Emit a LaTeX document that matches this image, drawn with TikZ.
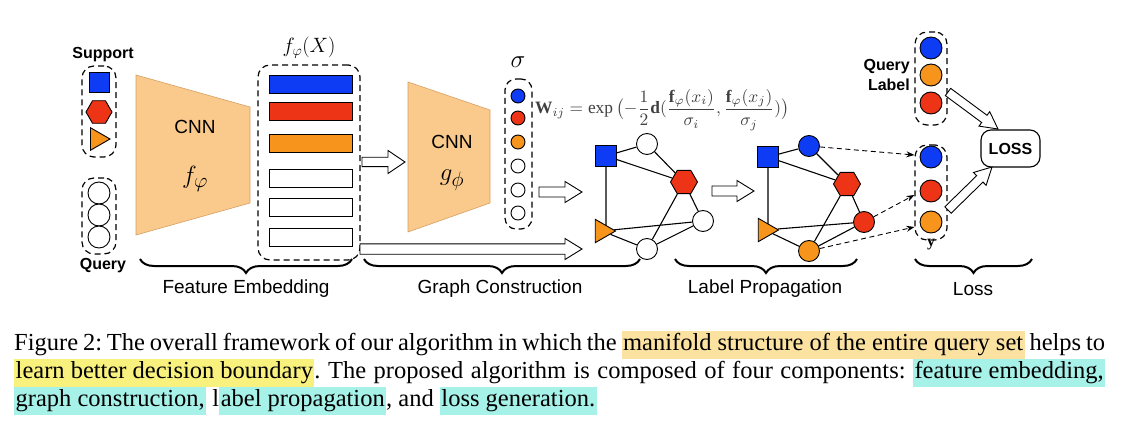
\documentclass[tikz,border=0pt]{standalone}
\usepackage{amsmath}
\usepackage{graphicx}
\usepackage{fontspec}
\setmainfont{Liberation Serif}
\setsansfont{Liberation Sans}
\usetikzlibrary{shapes.geometric,arrows.meta,calc,decorations.pathreplacing,backgrounds}
\definecolor{cblue}{RGB}{14,60,245}
\definecolor{cred}{RGB}{238,52,22}
\definecolor{corange}{RGB}{246,148,28}
\definecolor{cnnfill}{RGB}{250,201,140}
\definecolor{cnnline}{RGB}{215,160,100}
\definecolor{hlorange}{RGB}{252,226,160}
\definecolor{hlyellow}{RGB}{249,241,125}
\definecolor{hlcyan}{RGB}{166,241,232}
\newcommand\hl[2]{{\setlength{\fboxsep}{1.5pt}\colorbox{#1}{\rule[-7pt]{0pt}{25pt}#2}}}
\newcommand\harrow[5]{%
  \path ($(#2)!#5!(#1)$) coordinate (hh);
  \draw[hollowarr] ($(#1)!#3!90:(#2)$) -- ($(hh)!#3!90:(#2)$) -- ($(hh)!#4!90:(#2)$) -- (#2)
     -- ($(hh)!#4!-90:(#2)$) -- ($(hh)!#3!-90:(#2)$) -- ($(#1)!#3!-90:(#2)$) -- cycle;}
\begin{document}
\begin{tikzpicture}[x=1pt,y=-1pt,
  gbox/.style={draw, dash pattern=on 6pt off 4pt, line width=1.2pt, rounded corners=12pt, inner sep=0pt},
  sqnode/.style={rectangle, draw, line width=0.9pt, fill=cblue, minimum size=21pt, inner sep=0pt},
  hexnode/.style={regular polygon, regular polygon sides=6, draw, line width=0.9pt, fill=cred, minimum size=27pt, inner sep=0pt},
  trinode/.style={regular polygon, regular polygon sides=3, shape border rotate=-90, draw, line width=0.9pt, fill=corange, minimum size=27pt, inner sep=0pt},
  cnode/.style={circle, draw, line width=0.9pt, minimum size=21pt, inner sep=0pt, fill=white},
  scnode/.style={circle, draw, line width=0.9pt, minimum size=14pt, inner sep=0pt, fill=white},
  featbar/.style={rectangle, draw, line width=1pt, minimum width=83pt, minimum height=18pt, inner sep=0pt},
  gedge/.style={line width=1.1pt},
  hollowarr/.style={draw, fill=white, line width=0.9pt, line join=miter},
  dasharrow/.style={dash pattern=on 5pt off 3.5pt, line width=0.9pt, -{Stealth[length=8pt,width=6pt]}},
  bracestyle/.style={decorate, decoration={brace, mirror, amplitude=14pt}, line width=2pt},
  lab/.style={font=\fontsize{16}{19}\selectfont\sffamily\bfseries, inner sep=0pt},
  stage/.style={font=\fontsize{19}{22}\selectfont\sffamily, inner sep=0pt},
  cnnshape/.style={fill=cnnfill, draw=cnnline, line width=0.6pt},
  capline/.style={anchor=base west, inner sep=0pt, font=\fontsize{24.5}{27}\selectfont\frenchspacing}]
\useasboundingbox (0,0) rectangle (1128,433);
\begin{scope}[on background layer]
\fill[white] (0,0) rectangle (1128,433);
\end{scope}

% ---------- input ----------
\node[lab] (suplab) at (103,55) {Support};
\node[gbox, minimum width=34pt, minimum height=91pt] (supbox) at (99,111.5) {};
\node[sqnode, minimum size=20pt] (s1) at (99,82) {};
\node[hexnode, minimum size=26pt] (s2) at (99,112) {};
\node[trinode, minimum size=26pt] (s3) at (97,139) {};
\node[gbox, minimum width=34pt, minimum height=76pt] (qbox) at (99,216) {};
\node[cnode, minimum size=22pt] (q1) at (99,193) {};
\node[cnode, minimum size=22pt] (q2) at (99,215) {};
\node[cnode, minimum size=22pt] (q3) at (99,237) {};
\node[lab] (qlab) at (103,266) {Query};

% ---------- CNN f ----------
\draw[cnnshape] (136,75) -- (250,107) -- (250,203) -- (136,235) -- cycle;
\node[font=\fontsize{19}{22}\selectfont\sffamily, inner sep=0pt] (cnn1) at (195,127) {CNN};
\node[font=\fontsize{30}{34}\selectfont, inner sep=0pt] (f1) at (195,179) {$f_{\varphi}$};

% ---------- embeddings ----------
\node[font=\fontsize{22}{24}\selectfont, inner sep=0pt] (fx) at (309,48) {$f_{\varphi}(X)$};
\node[gbox, minimum width=102pt, minimum height=195pt] (fembox) at (309,162.5) {};
\node[featbar, fill=cblue] (b1) at (310.5,84.2) {};
\node[featbar, fill=cred] (b2) at (310.5,111.8) {};
\node[featbar, fill=corange] (b3) at (310.5,143.2) {};
\node[featbar, fill=white] (b4) at (310.5,178.5) {};
\node[featbar, fill=white] (b5) at (310.5,207.5) {};
\node[featbar, fill=white] (b6) at (310.5,237.5) {};

% ---------- CNN g ----------
\draw[cnnshape] (408,82) -- (490,110) -- (490,203) -- (408,232) -- cycle;
\node[font=\fontsize{19}{22}\selectfont\sffamily, inner sep=0pt] (cnn2) at (452,142) {CNN};
\node[font=\fontsize{30}{34}\selectfont, inner sep=0pt] (g1) at (452,180) {$g_{\phi}$};

% ---------- sigma ----------
\node[font=\fontsize{30}{32}\selectfont, inner sep=0pt] (sig) at (518,62) {$\sigma$};
\node[gbox, minimum width=27pt, minimum height=150pt, rounded corners=11pt] (sigbox) at (518.5,154) {};
\node[scnode, fill=cblue] (sg1) at (518,96) {};
\node[scnode, fill=cred] (sg2) at (518,118) {};
\node[scnode, fill=corange] (sg3) at (518,142) {};
\node[scnode] (sg4) at (518,166) {};
\node[scnode] (sg5) at (518,190) {};
\node[scnode] (sg6) at (518,213) {};

% ---------- formula ----------
\node[anchor=west, inner sep=0pt, text=black!75] (wform) at (535,110)
  {\resizebox{254pt}{!}{$\displaystyle\mathbf{W}_{ij}=\exp\,\bigl(-\frac{1}{2}\mathbf{d}(\frac{\mathbf{f}_{\varphi}(x_i)}{\sigma_i},\frac{\mathbf{f}_{\varphi}(x_j)}{\sigma_j})\bigr)$}};

% ---------- graph 1 ----------
\node[sqnode] (g1s) at (606,156) {};
\node[cnode] (g1t) at (647,144) {};
\node[hexnode] (g1h) at (684,182) {};
\node[cnode] (g1r) at (703,221) {};
\node[trinode] (g1tri) at (602,231) {};
\node[cnode] (g1b) at (647,249) {};
\begin{scope}[on background layer]
\draw[gedge] (g1s) -- (g1t) (g1s) -- (g1h) (g1s) -- (g1s |- g1tri) (g1t) -- (g1h)
  (g1h) -- (g1r) (g1h) -- (g1b) (g1tri) -- (g1r) (g1tri) -- (g1b) (g1b) -- (g1r);
\end{scope}

% ---------- graph 2 ----------
\node[sqnode] (g2s) at (768,157) {};
\node[cnode, fill=cblue] (g2t) at (809,146) {};
\node[hexnode] (g2h) at (847,184) {};
\node[cnode, fill=cred] (g2r) at (864,222) {};
\node[trinode] (g2tri) at (765,230) {};
\node[cnode, fill=corange] (g2b) at (809,251) {};
\begin{scope}[on background layer]
\draw[gedge] (g2s) -- (g2t) (g2s) -- (g2h) (g2s) -- (g2s |- g2tri) (g2t) -- (g2h)
  (g2h) -- (g2r) (g2h) -- (g2b) (g2tri) -- (g2r) (g2tri) -- (g2b) (g2b) -- (g2r);
\end{scope}

% ---------- loss side ----------
\node[gbox, minimum width=32pt, minimum height=93pt] (qlbox) at (931,78.5) {};
\node[cnode, minimum size=22pt, fill=cblue] (ql1) at (931,48) {};
\node[cnode, minimum size=22pt, fill=corange] (ql2) at (931,75) {};
\node[cnode, minimum size=22pt, fill=cred] (ql3) at (931,103) {};
\node[lab, anchor=east, align=right, font=\fontsize{16}{19.5}\selectfont\sffamily\bfseries] (qllab) at (910,75) {Query\\Label};

\node[gbox, minimum width=32pt, minimum height=95pt] (ybox) at (931,192.5) {};
\node[cnode, minimum size=22pt, fill=cblue] (y1) at (931,157) {};
\node[cnode, minimum size=22pt, fill=cred] (y2) at (931,191) {};
\node[cnode, minimum size=22pt, fill=corange] (y3) at (931,222) {};
\node[font=\fontsize{16}{17}\selectfont, inner sep=0pt] (ylab) at (931,245) {$\mathbf{y}$};

\node[draw, line width=1.1pt, rounded corners=10pt, minimum width=59pt, minimum height=37pt, inner sep=0pt,
  font=\fontsize{16}{19}\selectfont\sffamily\bfseries] (loss) at (1010.5,148.5) {LOSS};

\draw[dasharrow] (g2t) -- (ybox.west |- 0,155);
\draw[dasharrow] (g2r) -- (ybox.west |- 0,195);
\draw[dasharrow] (g2b) -- (ybox.west |- 0,227);

% ---------- hollow arrows ----------
\coordinate (a1s) at (362,162); \coordinate (a1e) at (405,162);
\coordinate (a2s) at (539,192); \coordinate (a2e) at (582,192);
\coordinate (a3s) at (360,249); \coordinate (a3e) at (582,249);
\coordinate (a4s) at (712,191); \coordinate (a4e) at (754,191);
\coordinate (a5s) at (948,92);  \coordinate (a5e) at (998,129);
\coordinate (a6s) at (948,210); \coordinate (a6e) at (992,167);
\harrow{a1s}{a1e}{4.7pt}{11.5pt}{17pt}
\harrow{a2s}{a2e}{5pt}{10.5pt}{17pt}
\harrow{a3s}{a3e}{5.2pt}{10.5pt}{17pt}
\harrow{a4s}{a4e}{5pt}{10.5pt}{17pt}
\harrow{a5s}{a5e}{4.5pt}{9pt}{17pt}
\harrow{a6s}{a6e}{4.5pt}{9pt}{17pt}

% ---------- braces ----------
\draw[bracestyle] (140,259) -- (352,259);
\draw[bracestyle] (364,259) -- (640,259);
\draw[bracestyle] (675,259) -- (857,259);
\draw[bracestyle] (915,259) -- (1032,259);
\node[stage] (st1) at (246,289) {Feature Embedding};
\node[stage] (st2) at (500,289) {Graph Construction};
\node[stage] (st3) at (765,289) {Label Propagation};
\node[stage] (st4) at (973,289) {Loss};

% ---------- caption ----------
\node[capline] (cap1) at (14,350) {\makebox[1091pt][s]{Figure 2: The overall framework of our algorithm in which the \hl{hlorange}{manifold structure of the entire query set} helps to}};
\node[capline] (cap2) at (14,378) {\makebox[1091pt][s]{\hl{hlyellow}{learn better decision boundary}. The proposed algorithm is composed of four components: \hl{hlcyan}{feature embedding,}}};
\node[capline] (cap3) at (14,406) {\hl{hlcyan}{graph construction,} l\hl{hlcyan}{abel propagation}, and \hl{hlcyan}{loss generation.}};
\end{tikzpicture}
\end{document}
